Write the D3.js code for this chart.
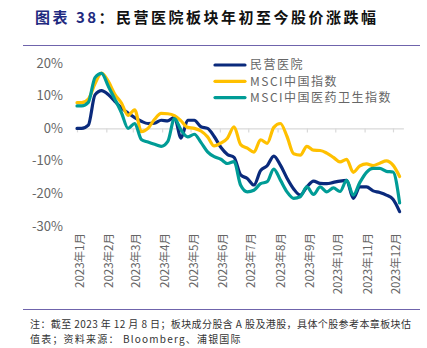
<!DOCTYPE html>
<html>
<head>
<meta charset="utf-8">
<script src="https://cdn.jsdelivr.net/npm/d3@7"></script>
<style>
  body { margin: 0; background: #fff; }
  svg { display: block; font-family: "Noto Sans CJK SC", "Noto Sans", sans-serif; }
</style>
</head>
<body>
<svg id="chart" width="427" height="348"></svg>
<script>
// weekly closes, % change since start of year
var dates = ["2023-01-01", "2023-01-06", "2023-01-13", "2023-01-20", "2023-01-27",
  "2023-02-03", "2023-02-10", "2023-02-17", "2023-02-24", "2023-03-03", "2023-03-10",
  "2023-03-17", "2023-03-24", "2023-03-31", "2023-04-07", "2023-04-14", "2023-04-21",
  "2023-04-28", "2023-05-05", "2023-05-12", "2023-05-19", "2023-05-26", "2023-06-02",
  "2023-06-09", "2023-06-16", "2023-06-23", "2023-06-30", "2023-07-07", "2023-07-14",
  "2023-07-21", "2023-07-28", "2023-08-04", "2023-08-11", "2023-08-18", "2023-08-25",
  "2023-09-01", "2023-09-08", "2023-09-15", "2023-09-22", "2023-09-29", "2023-10-06",
  "2023-10-13", "2023-10-20", "2023-10-27", "2023-11-03", "2023-11-10", "2023-11-17",
  "2023-11-24", "2023-12-01", "2023-12-08"];

var privateHosp = [0, 0, 1, 10.3, 11.6, 10.4, 8.3, 6.3, 4.7, 3.3, 2.2, 1.5, 1.6, 2.5,
  2.3, 3.4, -3, 2.5, 2.5, 0.5, 0, -2.5, -5.8, -8, -8.9, -14.3, -15.4, -17.4, -13,
  -11.5, -8.5, -11.3, -15.3, -18.6, -20.5, -18, -16.2, -16.9, -17, -16.6, -16.2,
  -16, -21.5, -18, -18, -19.2, -19.7, -20.5, -21.8, -25.6];

var msciChina = [7.9, 7.9, 9, 13.7, 17, 14.5, 10.5, 7.8, 4, 5.7, -1, 0, 2.8, 4.6,
  4.5, 3.9, 2.3, 0.3, 0, -0.8, -2.6, -5.4, -4.5, -3, 0.5, -5, -6.1, -7.3, -3.5,
  -4.6, 0.3, 1.5, -2.5, -7.8, -8.2, -5.5, -6.7, -6.8, -7.6, -8.9, -10.3, -9.5,
  -13.5, -11.5, -10.9, -11.4, -10.7, -10, -11.3, -14.8];

var msciHealth = [6.9, 6.9, 8, 15.6, 16.9, 13, 9, 4.8, 0, 1.5, -3.4, -4.2, -4.9,
  -5.5, -4, 3, -0.5, -2.6, -1.8, -4.3, -7.2, -8.7, -9.5, -10.8, -10.2, -17.5,
  -19.5, -19, -17, -16.4, -12.5, -15.9, -19.5, -21.5, -21, -18, -20.3, -18, -19.5,
  -18.3, -19.4, -16, -20.5, -16.6, -13.5, -12.3, -12.3, -13.2, -13.4, -22.9];

var seriesNames = ["民营医院", "MSCI中国指数", "MSCI中国医药卫生指数"];
var seriesColors = ["#0A2A7C", "#FFC000", "#009C96"];
var yTicks = [-30, -20, -10, 0, 10, 20];

var svg = d3.select("#chart");
var parse = d3.timeParse("%Y-%m-%d");
var t = dates.map(parse);

var x = d3.scaleTime()
  .domain([parse("2023-01-01"), parse("2023-12-12")])
  .range([77, 403.4]);
var y = d3.scaleLinear().domain([-30, 20]).range([226, 63.3]);

// title
var title = svg.append("text")
  .attr("x", 35).attr("y", 23)
  .attr("font-size", 15).attr("font-weight", "bold")
  .attr("letter-spacing", "2.5px");
title.append("tspan").attr("fill", "#1F2A80").text("图表 38");
title.append("tspan").attr("fill", "#111").text("：民营医院板块年初至今股价涨跌幅");

// frame rules
svg.append("line").attr("x1", 23).attr("x2", 420).attr("y1", 45.5).attr("y2", 45.5)
  .attr("stroke", "#6F64AC").attr("stroke-width", 1.2);
svg.append("line").attr("x1", 23).attr("x2", 420).attr("y1", 309.5).attr("y2", 309.5)
  .attr("stroke", "#6F64AC").attr("stroke-width", 1.2);

// y labels
svg.append("g").selectAll("text")
  .data(yTicks).join("text")
  .attr("x", 63).attr("y", function(d){ return y(d); })
  .attr("dy", "0.35em")
  .attr("text-anchor", "end")
  .attr("font-size", 13)
  .attr("fill", "#666")
  .text(function(d){ return d + "%"; });

// zero line with month ticks
var months = d3.timeMonth.range(parse("2023-01-01"), parse("2023-12-02"));
var xAxis = d3.axisBottom(x).tickValues(months).tickSize(4).tickFormat("").tickSizeOuter(0);
var gx = svg.append("g").attr("transform", "translate(0," + y(0) + ")").call(xAxis);
gx.selectAll("path, line").attr("stroke", "#D9D9D9").attr("stroke-width", 1.2);

// month labels at the bottom
var fmt = d3.timeFormat("%Y年%-m月");
svg.append("g").selectAll("text")
  .data(months).join("text")
  .attr("transform", function(d){ return "translate(" + (x(d) + 3) + ",233) rotate(-90)"; })
  .attr("dy", "0.35em")
  .attr("text-anchor", "end")
  .attr("font-size", 11.5)
  .attr("fill", "#666")
  .text(fmt);

// lines
var line = d3.line()
  .x(function(d, i){ return x(t[i]); })
  .y(function(d){ return y(d); })
  .curve(d3.curveMonotoneX);

[privateHosp, msciChina, msciHealth].forEach(function(vals, k){
  svg.append("path")
    .attr("d", line(vals))
    .attr("fill", "none")
    .attr("stroke", seriesColors[k])
    .attr("stroke-width", 3.2)
    .attr("stroke-linejoin", "round")
    .attr("stroke-linecap", "round");
});

// legend
var leg = svg.append("g").selectAll("g")
  .data(seriesNames).join("g")
  .attr("transform", function(d, i){ return "translate(215," + (65 + i * 16.3) + ")"; });
leg.append("line")
  .attr("x1", 0).attr("x2", 30)
  .attr("stroke", function(d, i){ return seriesColors[i]; })
  .attr("stroke-width", 3.2).attr("stroke-linecap", "round");
leg.append("text")
  .attr("x", 35).attr("dy", "0.35em")
  .attr("font-size", 12).attr("fill", "#666")
  .attr("letter-spacing", "1.5px")
  .text(function(d){ return d; });

// footnote
svg.append("text")
  .attr("x", 30).attr("y", 328)
  .attr("font-size", 10).attr("fill", "#333")
  .attr("textLength", 381).attr("lengthAdjust", "spacing")
  .text("注：截至 2023 年 12 月 8 日；板块成分股含 A 股及港股，具体个股参考本章板块估");
svg.append("text")
  .attr("x", 30).attr("y", 343)
  .attr("font-size", 10).attr("fill", "#333")
  .attr("letter-spacing", "1.2px")
  .text("值表；资料来源： Bloomberg、浦银国际");
</script>
</body>
</html>
